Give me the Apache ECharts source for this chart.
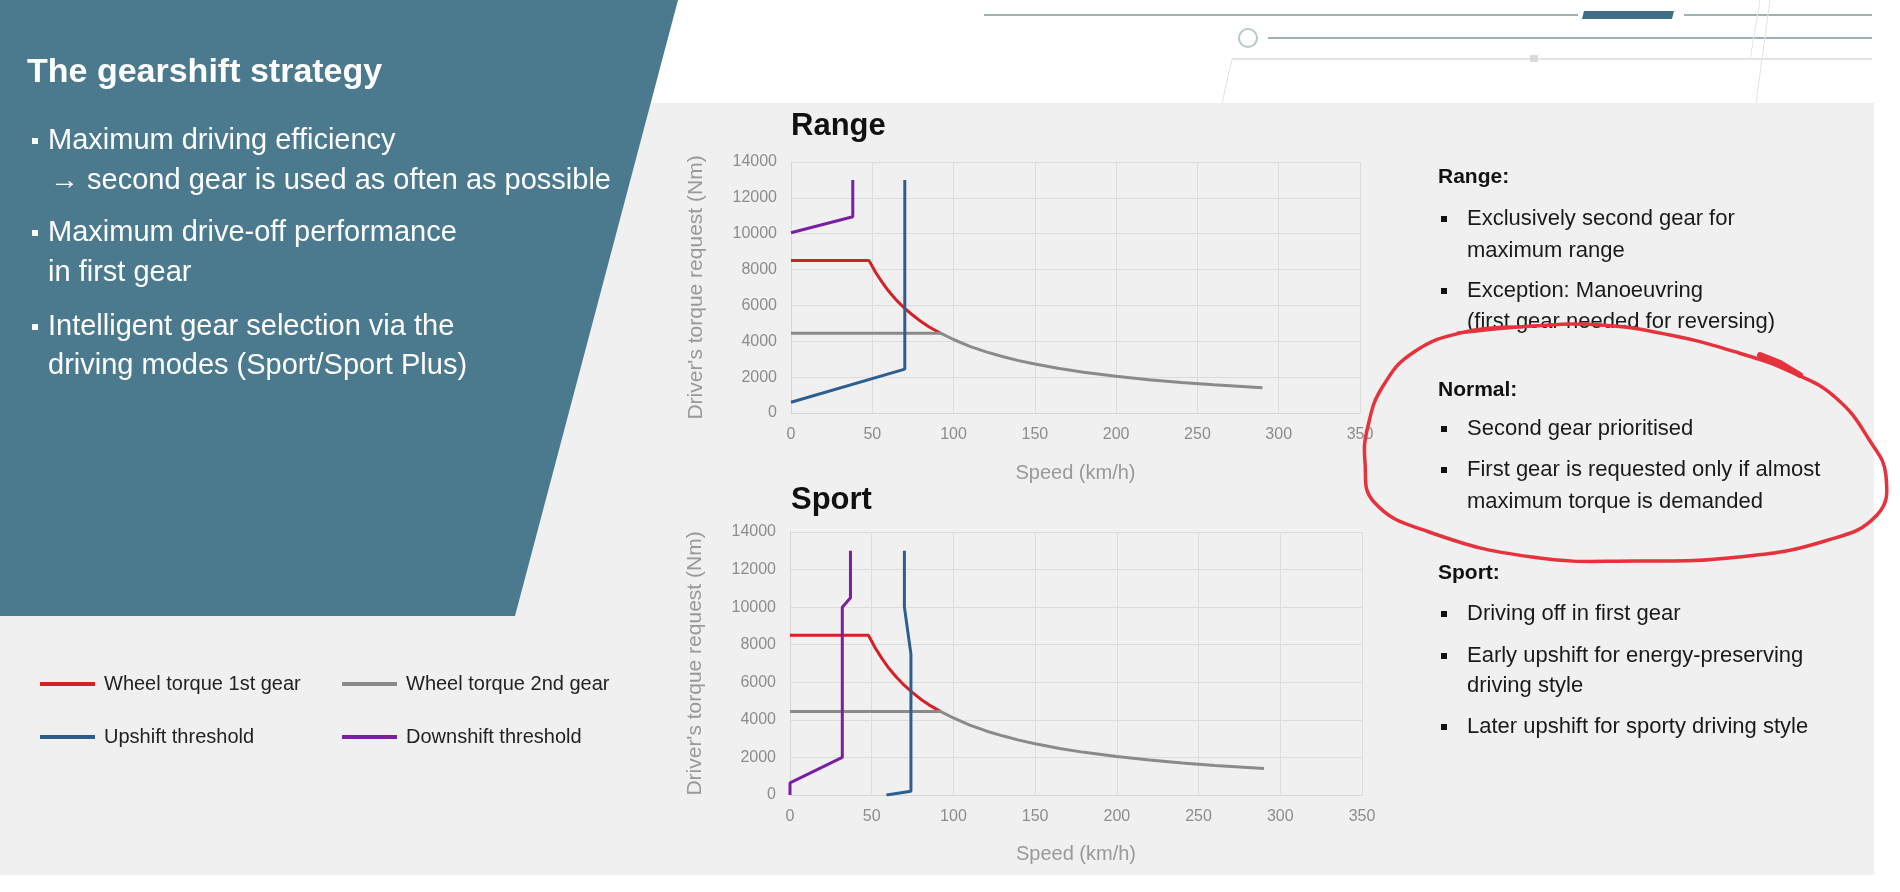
<!DOCTYPE html>
<html>
<head>
<meta charset="utf-8">
<script src="https://cdn.jsdelivr.net/npm/echarts@6/dist/echarts.min.js"></script>
<style>
  html, body { margin: 0; padding: 0; background: #fff; }
  #main { width: 1900px; height: 892px; }
</style>
</head>
<body>
<div id="main"></div>
<script>
// values: [speed km/h, torque Nm]
var firstGear = [[0, 8500], [48, 8500], [52, 7850], [56, 7300], [60, 6800], [65, 6280], [70, 5830],
  [75, 5450], [80, 5100], [85, 4800], [92, 4450]];
var secondGear = [[0, 4450], [92, 4450], [100, 4100], [110, 3720], [120, 3410], [130, 3150], [140, 2920],
  [150, 2730], [165, 2480], [180, 2270], [200, 2050], [220, 1860], [240, 1700], [260, 1570], [275, 1490], [290, 1410]];
var rangeUpshift = [[0, 600], [70, 2450], [70, 13000]];
var rangeDownshift = [[0, 10050], [38, 10950], [38, 13000]];
var sportUpshift = [[59, 0], [74, 200], [74, 7500], [70, 10000], [70, 13000]];
var sportDownshift = [[0, 0], [0, 650], [32, 2000], [32, 10000], [37, 10500], [37, 13000]];

var seriesNames = ['Wheel torque 1st gear', 'Wheel torque 2nd gear', 'Upshift threshold', 'Downshift threshold'];
var seriesColors = ['#d61f26', '#8a8a8a', '#2d5f8e', '#7b1fa2'];

var FONT = '"Liberation Sans", Arial, sans-serif';

var myChart = echarts.init(document.getElementById('main'));

// 坐标轴
function xAxisFor(idx, gap) {
  return {
    type: 'value', gridIndex: idx, min: 0, max: 350, interval: 50,
    name: 'Speed (km/h)', nameLocation: 'middle', nameGap: gap,
    nameTextStyle: { color: '#999', fontSize: 20, fontFamily: FONT },
    axisLine: { lineStyle: { color: '#d6d6d6' } },
    axisTick: { show: false },
    axisLabel: { color: '#8c8c8c', fontSize: 16, fontFamily: FONT, margin: 14 },
    splitLine: { lineStyle: { color: '#dcdcdc' } }
  };
}
function yAxisFor(idx) {
  return {
    type: 'value', gridIndex: idx, min: 0, max: 14000, interval: 2000,
    name: "Driver's torque request (Nm)", nameLocation: 'middle', nameGap: 84,
    nameTextStyle: { color: '#999', fontSize: 21, fontFamily: FONT },
    axisLine: { show: true, lineStyle: { color: '#d6d6d6' } },
    axisTick: { show: false },
    axisLabel: {
      color: '#8c8c8c', fontSize: 16, fontFamily: FONT, margin: 14,
      formatter: function (v) { return String(v); }
    },
    splitLine: { lineStyle: { color: '#dcdcdc' } }
  };
}
function lineSeries(name, idx, data) {
  return {
    name: name, type: 'line', xAxisIndex: idx, yAxisIndex: idx, data: data,
    symbol: 'none', silent: true,
    lineStyle: { width: 3, color: seriesColors[seriesNames.indexOf(name)] },
    itemStyle: { color: seriesColors[seriesNames.indexOf(name)] }
  };
}

// 文字
function txt(str, x, y, size, color, bold, z) {
  return {
    type: 'text', x: x, y: y, z: z || 5,
    style: { text: str, fill: color, font: (bold ? 'bold ' : '') + size + 'px ' + FONT, verticalAlign: 'middle' }
  };
}
function box(x, y, w, h, color) {
  return { type: 'rect', z: 5, shape: { x: x, y: y, width: w, height: h }, style: { fill: color } };
}
function seg(x1, y1, x2, y2, color, w) {
  return { type: 'line', z: 1, shape: { x1: x1, y1: y1, x2: x2, y2: y2 }, style: { stroke: color, lineWidth: w } };
}

var graphics = [
  { type: 'rect', z: -10, shape: { x: 0, y: 103, width: 1874, height: 772 }, style: { fill: '#f0f0f0' } },
  { type: 'polygon', z: -5, shape: { points: [[0, 0], [678, 0], [515, 616], [0, 616]] }, style: { fill: '#4b7a8f' } },
  // top-right decoration
  seg(984, 15, 1578, 15, '#9fb3b7', 2),
  seg(1684, 15, 1872, 15, '#9fb3b7', 2),
  { type: 'polygon', z: 1, shape: { points: [[1584, 11], [1674, 11], [1672, 19], [1582, 19]] }, style: { fill: '#3f6e85' } },
  { type: 'circle', z: 1, shape: { cx: 1248, cy: 38, r: 9 }, style: { fill: 'none', stroke: '#b9c6ca', lineWidth: 2 } },
  seg(1268, 38, 1872, 38, '#9fb3b7', 2),
  seg(1232, 59, 1872, 59, '#e4e4e4', 2),
  box(1530, 55, 8, 7, '#dadada'),
  seg(1232, 59, 1222, 103, '#e2e2e2', 1),
  seg(1770, 0, 1756, 103, '#e2e2e2', 1),
  seg(1760, 0, 1750, 60, '#e6e6e6', 1),
  // left panel text
  txt('The gearshift strategy', 27, 73, 34, '#ffffff', true),
  box(32, 138, 6, 6, '#ffffff'),
  txt('Maximum driving efficiency', 48, 141, 29, '#ffffff'),
  txt('\u2192 second gear is used as often as possible', 50, 181, 29, '#ffffff'),
  box(32, 230, 6, 6, '#ffffff'),
  txt('Maximum drive-off performance', 48, 233, 29, '#ffffff'),
  txt('in first gear', 48, 273, 29, '#ffffff'),
  box(32, 324, 6, 6, '#ffffff'),
  txt('Intelligent gear selection via the', 48, 327, 29, '#ffffff'),
  txt('driving modes (Sport/Sport Plus)', 48, 366, 29, '#ffffff'),
  // right column text
  txt('Range:', 1438, 177, 21, '#111', true),
  box(1441, 216, 6, 6, '#111'),
  txt('Exclusively second gear for', 1467, 219, 22, '#1a1a1a'),
  txt('maximum range', 1467, 251, 22, '#1a1a1a'),
  box(1441, 288, 6, 6, '#111'),
  txt('Exception: Manoeuvring', 1467, 291, 22, '#1a1a1a'),
  txt('(first gear needed for reversing)', 1467, 322, 22, '#1a1a1a'),
  txt('Normal:', 1438, 390, 21, '#111', true),
  box(1441, 426, 6, 6, '#111'),
  txt('Second gear prioritised', 1467, 429, 22, '#1a1a1a'),
  box(1441, 467, 6, 6, '#111'),
  txt('First gear is requested only if almost', 1467, 470, 22, '#1a1a1a'),
  txt('maximum torque is demanded', 1467, 502, 22, '#1a1a1a'),
  txt('Sport:', 1438, 573, 21, '#111', true),
  box(1441, 611, 6, 6, '#111'),
  txt('Driving off in first gear', 1467, 614, 22, '#1a1a1a'),
  box(1441, 653, 6, 6, '#111'),
  txt('Early upshift for energy-preserving', 1467, 656, 22, '#1a1a1a'),
  txt('driving style', 1467, 686, 22, '#1a1a1a'),
  box(1441, 724, 6, 6, '#111'),
  txt('Later upshift for sporty driving style', 1467, 727, 22, '#1a1a1a'),
  // hand drawn red loop
  {
    type: 'polyline', z: 100,
    shape: {
      smooth: 0.45,
      points: [[1458, 333], [1532, 326], [1601, 325], [1670, 335], [1739, 353], [1791, 372],
        [1836, 398], [1870, 441], [1886, 476], [1877, 515], [1825, 541], [1739, 557], [1636, 561],
        [1532, 557], [1429, 532], [1374, 502], [1365, 462], [1368, 426], [1383, 386], [1414, 352],
        [1465, 332], [1522, 327]]
    },
    style: { stroke: '#e5323c', lineWidth: 3.5, fill: 'none', lineCap: 'round' }
  },
  {
    type: 'polyline', z: 100,
    shape: { points: [[1760, 355], [1780, 363], [1800, 375]] },
    style: { stroke: '#e5323c', lineWidth: 6, fill: 'none', lineCap: 'round' }
  }
];

function legendFor(name, left, top) {
  return {
    data: [name], left: left, top: top, icon: 'rect', itemWidth: 55, itemHeight: 4,
    selectedMode: false, padding: 0,
    textStyle: { color: '#222', fontSize: 20, fontFamily: FONT, padding: [0, 0, 0, 4] }
  };
}

var option = {
  backgroundColor: '#ffffff',
  animation: false,
  title: [
    { text: 'Range', left: 791, top: 111, padding: 0, textStyle: { fontSize: 31, fontWeight: 'bold', color: '#111', fontFamily: FONT } },
    { text: 'Sport', left: 791, top: 485, padding: 0, textStyle: { fontSize: 31, fontWeight: 'bold', color: '#111', fontFamily: FONT } }
  ],
  legend: [
    legendFor('Wheel torque 1st gear', 40, 674),
    legendFor('Wheel torque 2nd gear', 342, 674),
    legendFor('Upshift threshold', 40, 727),
    legendFor('Downshift threshold', 342, 727)
  ],
  grid: [
    { left: 791, top: 162, width: 569, height: 251 },
    { left: 790, top: 532, width: 572, height: 263 }
  ],
  xAxis: [xAxisFor(0, 50), xAxisFor(1, 49)],
  yAxis: [yAxisFor(0), yAxisFor(1)],
  series: [
    lineSeries('Wheel torque 1st gear', 0, firstGear),
    lineSeries('Wheel torque 2nd gear', 0, secondGear),
    lineSeries('Upshift threshold', 0, rangeUpshift),
    lineSeries('Downshift threshold', 0, rangeDownshift),
    lineSeries('Wheel torque 1st gear', 1, firstGear),
    lineSeries('Wheel torque 2nd gear', 1, secondGear),
    lineSeries('Upshift threshold', 1, sportUpshift),
    lineSeries('Downshift threshold', 1, sportDownshift)
  ],
  graphic: { elements: graphics }
};

myChart.setOption(option);
</script>
</body>
</html>
